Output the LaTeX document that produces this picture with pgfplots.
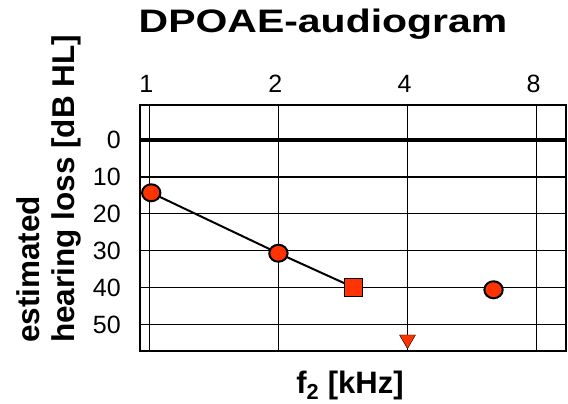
\documentclass[border=0pt]{standalone}
\usepackage{fontspec}
\setmainfont{Liberation Sans}
\usepackage{pgfplots}
\pgfplotsset{compat=1.18}
\definecolor{dpred}{RGB}{255,51,0}

\begin{document}
\begin{tikzpicture}
\path[use as bounding box] (-140pt,-53pt) rectangle (428pt,351pt);
\begin{axis}[
  at={(0pt,0pt)}, anchor=south west,
  width=426pt, height=246pt, scale only axis,
  xmode=log, log basis x=2,
  xmin=0.951, xmax=9.37,
  ymin=-9.5, ymax=57.2, y dir=reverse,
  xtick={1,2,4,8}, xticklabels={1,2,4,8},
  ytick={0,10,20,30,40,50},
  xticklabel pos=upper,
  major tick length=0pt,
  grid=major,
  grid style={black, line width=1.3pt},
  axis line style={black, line width=1.3pt},
  extra y ticks={0}, extra y tick labels={},
  extra y tick style={grid style={black, line width=3.5pt}},
  /pgf/number format/assume math mode=true,
  tick label style={font=\fontsize{25}{25}\selectfont, inner sep=0pt},
  xticklabel style={anchor=south, yshift=12pt, xshift=-3pt},
  yticklabel style={anchor=east, xshift=-19pt},
  title={\scalebox{1.26}[1]{DPOAE-audiogram}},
  title style={at={(rel axis cs:0.4296,1.272)}, anchor=base, inner sep=0pt,
    font=\bfseries\fontsize{32.5}{34}\selectfont},
  xlabel={f\textsubscript{2} [kHz]},
  xlabel style={at={(rel axis cs:0.493,0)}, anchor=base, yshift=-42pt, inner sep=0pt,
    font=\bfseries\fontsize{31}{33}\selectfont},
  ylabel={estimated\\hearing loss [dB HL]},
  ylabel style={at={(rel axis cs:-0.1385,0.0325)}, anchor=south west, align=left, inner sep=0pt,
    font=\bfseries\fontsize{31.5}{35}\selectfont},
  clip=false,
]
% DPOAE threshold estimates
\addplot[black, line width=2pt] coordinates {(1.01,14.3) (2,30.7) (3,40)};
\addplot[only marks, mark=*, mark size=8.5pt,
  mark options={fill=dpred, draw=black, line width=2pt, xscale=1.08}]
  coordinates {(1.01,14.3) (2,30.7) (6.35,40.6)};
\addplot[only marks, mark=square*, mark size=9pt,
  mark options={fill=dpred, draw=black, line width=1pt}]
  coordinates {(3,40)};
\addplot[only marks, mark=triangle*, mark size=9.2pt,
  mark options={fill=dpred, draw=none, rotate=180}]
  coordinates {(4,54.1)};
\end{axis}
\end{tikzpicture}
\end{document}
